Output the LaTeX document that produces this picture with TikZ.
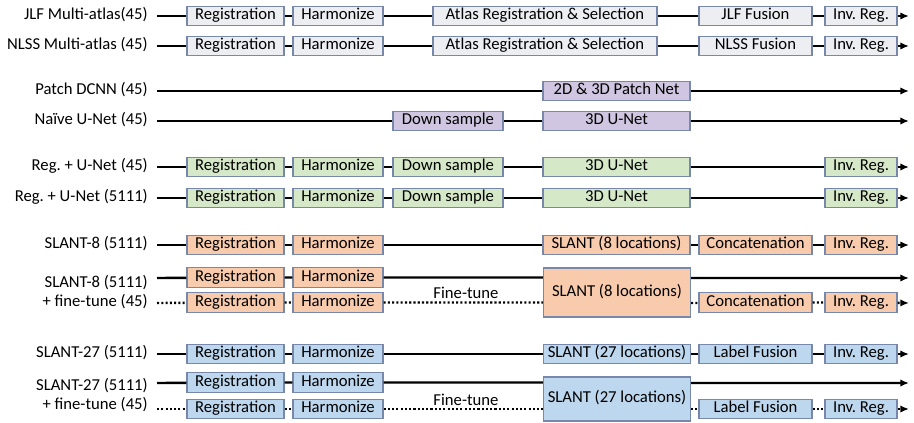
\documentclass[tikz,border=0pt]{standalone}
\usepackage{fontspec}
\setmainfont{Carlito}
\usetikzlibrary{arrows.meta}
\frenchspacing

\definecolor{edgeblue}{RGB}{120,136,170}
\definecolor{fillgray}{RGB}{237,238,242}
\definecolor{fillpurple}{RGB}{208,198,225}
\definecolor{fillgreen}{RGB}{213,232,199}
\definecolor{fillorange}{RGB}{248,203,173}
\definecolor{fillblue}{RGB}{189,215,238}

\tikzset{
    stage/.style={draw=edgeblue, line width=0.8pt, inner sep=0pt, minimum height=14.6pt, text height=8.4pt, text depth=2.8pt, font=\fontsize{12.5}{14}\selectfont},
    regbox/.style={stage, minimum width=72.75pt},
    harbox/.style={stage, minimum width=67.5pt},
    atlbox/.style={stage, minimum width=168pt},
    fusbox/.style={stage, minimum width=84.75pt},
    invbox/.style={stage, minimum width=54pt},
    downbox/.style={stage, minimum width=82.5pt},
    netbox/.style={stage, minimum width=110.25pt},
    rowlabel/.style={anchor=east, inner sep=0pt, text height=8.4pt, text depth=2.8pt, font=\fontsize{12.5}{14}\selectfont},
    flow/.style={line width=1.8pt},
    tuneflow/.style={line width=1.8pt, dash pattern=on 1.6pt off 1.6pt},
    tip/.style={-{Latex[length=6.5pt,width=5.5pt]}}
}

\begin{document}
\begin{tikzpicture}[x=0.75pt,y=0.75pt,yscale=-1,xscale=1]
    \useasboundingbox (0,0) rectangle (914,422);

    % JLF multi-atlas
    \node [rowlabel] (l1) at (148,16) {JLF Multi-atlas(45)};
    \coordinate (s1) at (157,16);
    \coordinate (e1) at (909,16);
    \node [regbox, fill=fillgray] (reg1) at (235.5,16) {Registration};
    \node [harbox, fill=fillgray] (har1) at (338,16) {Harmonize};
    \node [atlbox, fill=fillgray] (atl1) at (545,16) {Atlas Registration \& Selection};
    \node [fusbox, fill=fillgray] (fus1) at (755.5,16) {JLF Fusion};
    \node [invbox, fill=fillgray] (inv1) at (861,16) {Inv. Reg.};
    \draw [flow,tip] (s1) -- (reg1) -- (har1) -- (atl1) -- (fus1) -- (inv1) -- (e1);

    % NLSS multi-atlas
    \node [rowlabel] (l2) at (148,46) {NLSS Multi-atlas (45)};
    \coordinate (s2) at (157,46);
    \coordinate (e2) at (909,46);
    \node [regbox, fill=fillgray] (reg2) at (235.5,46) {Registration};
    \node [harbox, fill=fillgray] (har2) at (338,46) {Harmonize};
    \node [atlbox, fill=fillgray] (atl2) at (545,46) {Atlas Registration \& Selection};
    \node [fusbox, fill=fillgray] (fus2) at (755.5,46) {NLSS Fusion};
    \node [invbox, fill=fillgray] (inv2) at (861,46) {Inv. Reg.};
    \draw [flow,tip] (s2) -- (reg2) -- (har2) -- (atl2) -- (fus2) -- (inv2) -- (e2);

    % Patch DCNN
    \node [rowlabel] (l3) at (148,91) {Patch DCNN (45)};
    \coordinate (s3) at (157,91);
    \coordinate (e3) at (909,91);
    \node [netbox, fill=fillpurple] (net3) at (616.5,91) {2D \& 3D Patch Net};
    \draw [flow,tip] (s3) -- (net3) -- (e3);

    % naive U-Net
    \node [rowlabel] (l4) at (148,121) {Naïve U-Net (45)};
    \coordinate (s4) at (157,121);
    \coordinate (e4) at (909,121);
    \node [downbox, fill=fillpurple] (dwn4) at (448,121) {Down sample};
    \node [netbox, fill=fillpurple] (net4) at (616.5,121) {3D U-Net};
    \draw [flow,tip] (s4) -- (dwn4) -- (net4) -- (e4);

    % Reg. + U-Net (45)
    \node [rowlabel] (l5) at (148,167) {Reg. + U-Net (45)};
    \coordinate (s5) at (157,167);
    \coordinate (e5) at (909,167);
    \node [regbox, fill=fillgreen] (reg5) at (235.5,167) {Registration};
    \node [harbox, fill=fillgreen] (har5) at (338,167) {Harmonize};
    \node [downbox, fill=fillgreen] (dwn5) at (448,167) {Down sample};
    \node [netbox, fill=fillgreen] (net5) at (616.5,167) {3D U-Net};
    \node [invbox, fill=fillgreen] (inv5) at (861,167) {Inv. Reg.};
    \draw [flow,tip] (s5) -- (reg5) -- (har5) -- (dwn5) -- (net5) -- (inv5) -- (e5);

    % Reg. + U-Net (5111)
    \node [rowlabel] (l6) at (148,198) {Reg. + U-Net (5111)};
    \coordinate (s6) at (157,198);
    \coordinate (e6) at (909,198);
    \node [regbox, fill=fillgreen] (reg6) at (235.5,198) {Registration};
    \node [harbox, fill=fillgreen] (har6) at (338,198) {Harmonize};
    \node [downbox, fill=fillgreen] (dwn6) at (448,198) {Down sample};
    \node [netbox, fill=fillgreen] (net6) at (616.5,198) {3D U-Net};
    \node [invbox, fill=fillgreen] (inv6) at (861,198) {Inv. Reg.};
    \draw [flow,tip] (s6) -- (reg6) -- (har6) -- (dwn6) -- (net6) -- (inv6) -- (e6);

    % SLANT-8
    \node [rowlabel] (l7) at (148,245) {SLANT-8 (5111)};
    \coordinate (s7) at (157,245);
    \coordinate (e7) at (909,245);
    \node [regbox, fill=fillorange] (reg7) at (235.5,245) {Registration};
    \node [harbox, fill=fillorange] (har7) at (338,245) {Harmonize};
    \node [netbox, fill=fillorange] (net7) at (616.5,245) {SLANT (8 locations)};
    \node [fusbox, fill=fillorange] (fus7) at (755.5,245) {Concatenation};
    \node [invbox, fill=fillorange] (inv7) at (861,245) {Inv. Reg.};
    \draw [flow,tip] (s7) -- (reg7) -- (har7) -- (net7) -- (fus7) -- (inv7) -- (e7);

    % SLANT-8 + fine-tune
    \node [rowlabel] (l8) at (148,284) {SLANT-8 (5111)};
    \node [rowlabel] (m8) at (148,303) {+ fine-tune (45)};
    \coordinate (s8) at (157,278);
    \coordinate (e8) at (909,278);
    \coordinate (t8) at (157,303);
    \coordinate (f8) at (909,303);
    \node [regbox, fill=fillorange] (reg8) at (235.5,277.5) {Registration};
    \node [harbox, fill=fillorange] (har8) at (338,277.5) {Harmonize};
    \node [regbox, fill=fillorange] (regb8) at (235.5,302.5) {Registration};
    \node [harbox, fill=fillorange] (harb8) at (338,302.5) {Harmonize};
    \node [netbox, fill=fillorange, minimum height=36.75pt] (net8) at (617,292.5) {SLANT (8 locations)};
    \node [fusbox, fill=fillorange] (fus8) at (755.5,302.5) {Concatenation};
    \node [invbox, fill=fillorange] (inv8) at (861,302.5) {Inv. Reg.};
    \node [inner sep=0pt, font=\fontsize{12.5}{14}\selectfont] (ft8) at (466,293) {Fine-tune};
    \draw [flow,tip] (s8) -- (reg8) -- (har8) -- (har8 -| net8.west) (net8.east |- s8) -- (e8);
    \draw [tuneflow,tip] (t8) -- (regb8) -- (harb8) -- (harb8 -| net8.west) (net8.east |- t8) -- (fus8) -- (inv8) -- (f8);

    % SLANT-27
    \node [rowlabel] (l9) at (148,354) {SLANT-27 (5111)};
    \coordinate (s9) at (157,354);
    \coordinate (e9) at (909,354);
    \node [regbox, fill=fillblue] (reg9) at (235.5,354) {Registration};
    \node [harbox, fill=fillblue] (har9) at (338,354) {Harmonize};
    \node [netbox, fill=fillblue] (net9) at (617,354) {SLANT (27 locations)};
    \node [fusbox, fill=fillblue] (fus9) at (755.5,354) {Label Fusion};
    \node [invbox, fill=fillblue] (inv9) at (861,354) {Inv. Reg.};
    \draw [flow,tip] (s9) -- (reg9) -- (har9) -- (net9) -- (fus9) -- (inv9) -- (e9);

    % SLANT-27 + fine-tune
    \node [rowlabel] (l10) at (148,387) {SLANT-27 (5111)};
    \node [rowlabel] (m10) at (148,406) {+ fine-tune (45)};
    \coordinate (s10) at (157,383);
    \coordinate (e10) at (909,383);
    \coordinate (t10) at (157,409);
    \coordinate (f10) at (909,409);
    \node [regbox, fill=fillblue] (reg10) at (235.5,382.5) {Registration};
    \node [harbox, fill=fillblue] (har10) at (338,382.5) {Harmonize};
    \node [regbox, fill=fillblue] (regb10) at (235.5,409) {Registration};
    \node [harbox, fill=fillblue] (harb10) at (338,409) {Harmonize};
    \node [netbox, fill=fillblue, minimum height=33pt] (net10) at (617,399) {SLANT (27 locations)};
    \node [fusbox, fill=fillblue] (fus10) at (755.5,409) {Label Fusion};
    \node [invbox, fill=fillblue] (inv10) at (861,409) {Inv. Reg.};
    \node [inner sep=0pt, font=\fontsize{12.5}{14}\selectfont] (ft10) at (466,400) {Fine-tune};
    \draw [flow,tip] (s10) -- (reg10) -- (har10) -- (har10 -| net10.west) (net10.east |- s10) -- (e10);
    \draw [tuneflow,tip] (t10) -- (regb10) -- (harb10) -- (harb10 -| net10.west) (net10.east |- t10) -- (fus10) -- (inv10) -- (f10);
\end{tikzpicture}
\end{document}
